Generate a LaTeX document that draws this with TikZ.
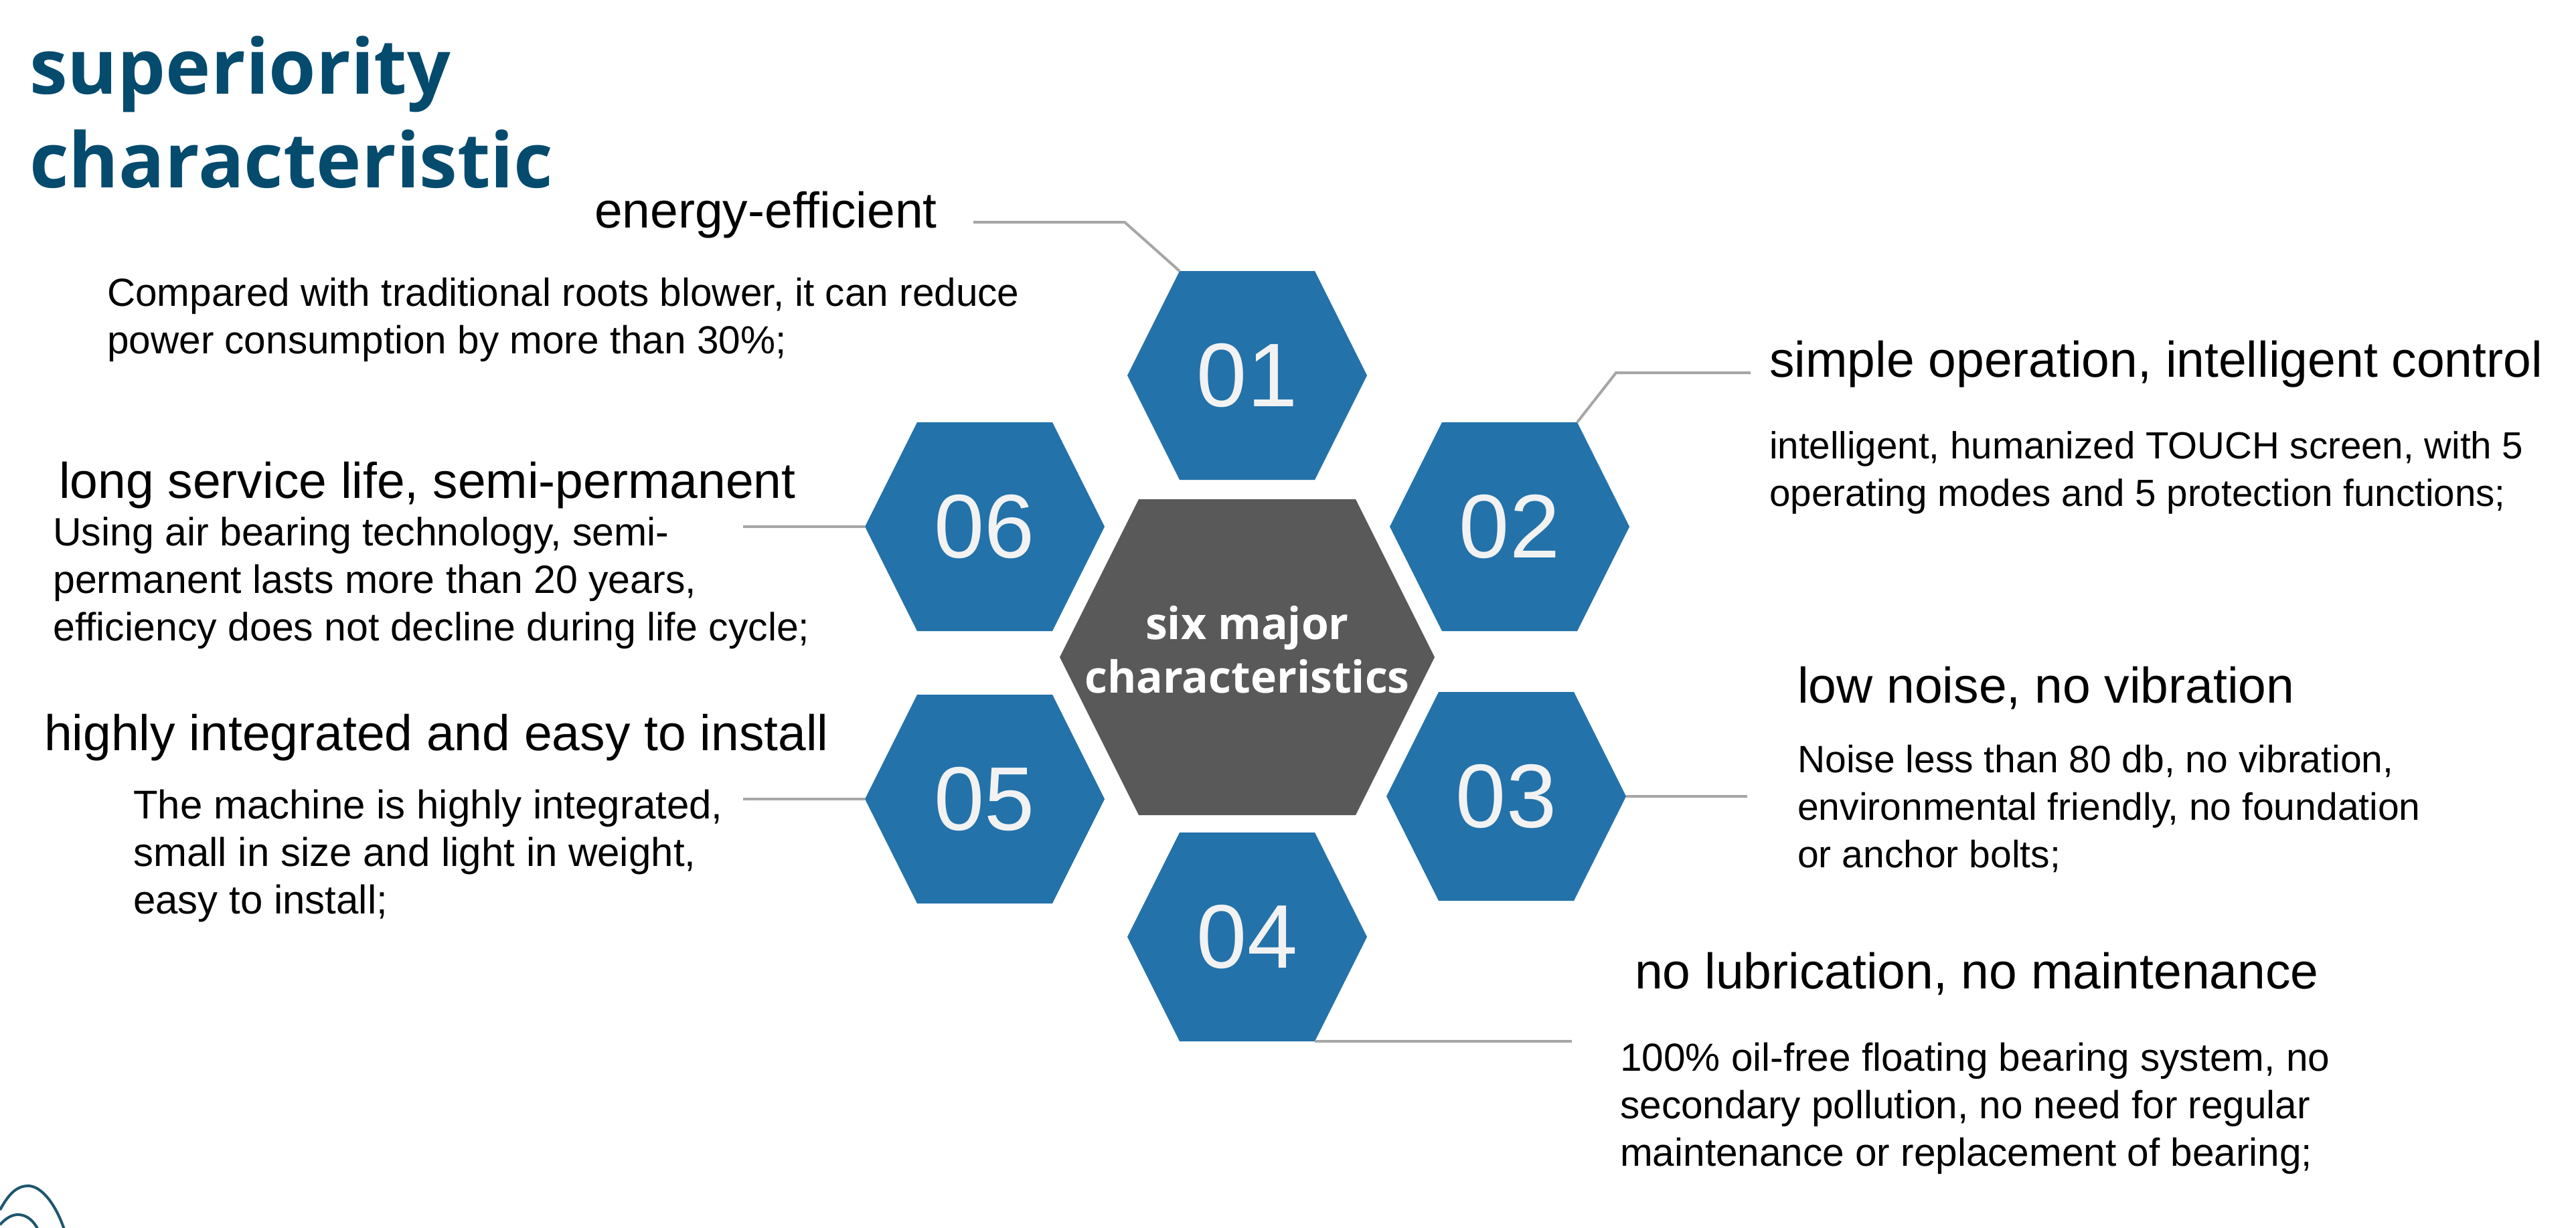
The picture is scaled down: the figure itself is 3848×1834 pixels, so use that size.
\documentclass[tikz,border=0pt]{standalone}
\usepackage{fontspec}
\setmainfont{Liberation Sans}
\newfontfamily\titlefamily{Open Sans}
\usetikzlibrary{positioning,calc}
\definecolor{hexblue}{RGB}{35,114,170}
\definecolor{coregray}{RGB}{89,89,89}
\definecolor{titleblue}{RGB}{4,75,110}
\definecolor{linegray}{RGB}{166,166,166}
\definecolor{numwhite}{RGB}{242,242,242}
\definecolor{logoteal}{RGB}{30,85,110}
\tikzset{hexbg/.style 2 args={path picture={\fill[#1] (path picture bounding box.west)
      -- ([xshift=#2]path picture bounding box.north west) -- ([xshift=-#2]path picture bounding box.north east)
      -- (path picture bounding box.east) -- ([xshift=-#2]path picture bounding box.south east)
      -- ([xshift=#2]path picture bounding box.south west) -- cycle;}},
cell/.style={hexbg={hexblue}{78pt}, minimum width=358pt, minimum height=312pt, inner sep=0pt, outer sep=0pt,
  text=numwhite, font=\fontsize{135}{135}\selectfont},
core/.style={hexbg={coregray}{118pt}, minimum width=560pt, minimum height=472pt, inner sep=0pt, outer sep=0pt,
  text=white, align=center, font=\titlefamily\bfseries\fontsize{66}{80}\selectfont},
head/.style={anchor=base west, inner sep=0pt, font=\fontsize{75}{90}\selectfont},
desc/.style={anchor=base west, inner sep=0pt, align=left, font=\fontsize{#1}{71}\selectfont},
desc/.default=58.5,
lead/.style={draw=linegray, line width=4pt}
}
\begin{document}
\begin{tikzpicture}[x=1pt, y=-1pt]
    \fill[white] (0,0) rectangle (3848,1834);
    \useasboundingbox (0,0) rectangle (3848,1834);
    % Title (base = last line)
    \node [anchor=base west, inner sep=0pt, align=left, text=titleblue,
      font=\titlefamily\bfseries\fontsize{114}{140}\selectfont] (ttl) at (44,280) {superiority\\characteristic};
    % Hexagons
    \node [core] (core) at (1863,982) {six major\\characteristics\rule[-24pt]{0pt}{0pt}};
    \node [cell] (h1) at (1863,561) {01};
    \node [cell] (h2) at (2255,787) {02};
    \node [cell] (h3) at (2250,1190) {03};
    \node [cell] (h4) at (1863,1400) {04};
    \node [cell] (h5) at (1471,1194) {05};
    \node [cell] (h6) at (1471,787) {06};
    % Texts
    \node [head] (head1) at (888,340) {energy-efficient};
    \node [desc] (desc1) at (160,528) {Compared with traditional roots blower, it can reduce\\power consumption by more than 30\%;};
    \node [head] (head2) at (2643,563) {simple operation, intelligent control};
    \node [desc=56.5] (desc2) at (2643,756) {intelligent, humanized TOUCH screen, with 5\\operating modes and 5 protection functions;};
    \node [head] (head3) at (2685,1050) {low noise, no vibration};
    \node [desc=57] (desc3) at (2685,1296) {Noise less than 80 db, no vibration,\\environmental friendly, no foundation\\or anchor bolts;};
    \node [head] (head4) at (2442,1477) {no lubrication, no maintenance};
    \node [desc] (desc4) at (2420,1742) {100\% oil-free floating bearing system, no\\secondary pollution, no need for regular\\maintenance or replacement of bearing;};
    \node [head] (head5) at (66,1121) {highly integrated and easy to install};
    \node [desc=60] (desc5) at (199,1365) {The machine is highly integrated,\\small in size and light in weight,\\easy to install;};
    \node [head] (head6) at (88,744) {long service life, semi-permanent};
    \node [desc=59] (desc6) at (79,957) {Using air bearing technology, semi-\\permanent lasts more than 20 years,\\efficiency does not decline during life cycle;};
    % Lines
    \coordinate (e1) at (1454,332);
    \coordinate (e2) at (2615,557);
    \coordinate (e3) at (2610,1190);
    \coordinate (e4) at (2348,1556);
    \coordinate (e5) at (1110,1194);
    \coordinate (e6) at (1110,787);
    \draw [lead] ([xshift=78pt]h1.north west) -- ++(-82,-73) -- (e1);
    \draw [lead] ([xshift=-78pt]h2.north east) -- ++(58,-74) -- (e2);
    \draw [lead] (h3.east) -- (e3);
    \draw [lead] ([xshift=-78pt]h4.south east) -- (e4);
    \draw [lead] (h5.west) -- (e5);
    \draw [lead] (h6.west) -- (e6);
    % Logo corner
    \draw [logoteal, line width=4pt] (0,1808) .. controls (15,1780) and (28,1772) .. (42,1772)
      .. controls (60,1772) and (82,1795) .. (97,1840);
    \draw [logoteal, line width=4pt] (0,1830) .. controls (9,1820) and (18,1815) .. (27,1815)
      .. controls (38,1815) and (50,1822) .. (58,1840);
  \end{tikzpicture}
\end{document}
